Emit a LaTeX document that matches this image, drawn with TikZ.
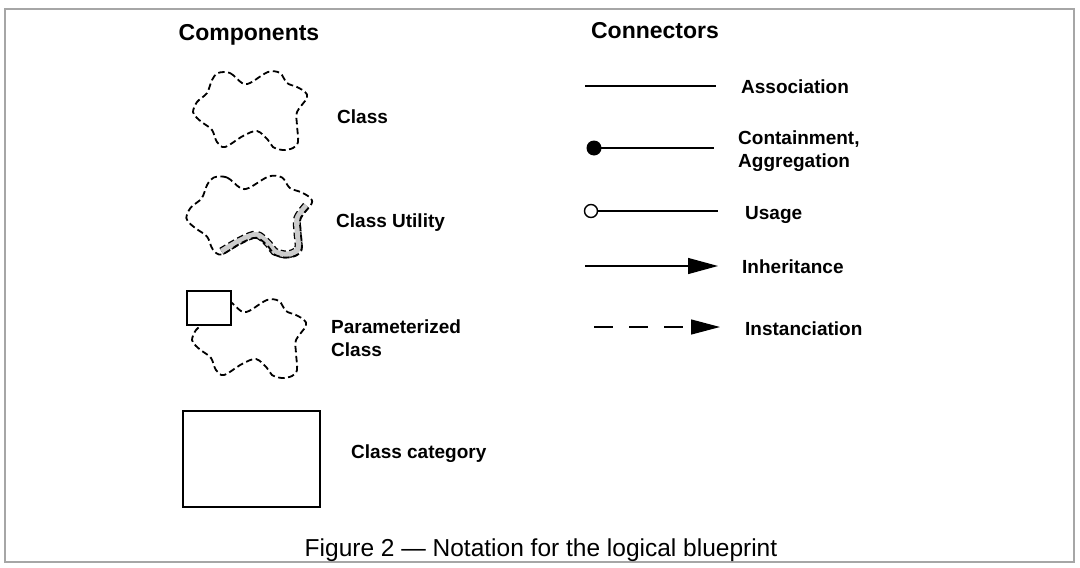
\documentclass[tikz,border=0pt]{standalone}
\usepackage{fontspec}
\setmainfont{Liberation Sans}
\usetikzlibrary{arrows.meta}
\tikzset{cloudline/.style={black, line width=1.8pt, dash pattern=on 6.5pt off 3.5pt},
  bandedge/.style={black, line width=8pt, dash pattern=on 6.5pt off 3.5pt},
  bandfill/.style={gray!40, line width=5.4pt},
  conn/.style={black, line width=1.3pt},
  lbl/.style={anchor=base west, inner sep=0pt, font=\fontsize{19}{22.5}\selectfont\bfseries},
  head/.style={anchor=base, inner sep=0pt, font=\fontsize{23}{27}\selectfont\bfseries},
  dotend/.style={circle, fill=black, inner sep=0pt, minimum size=15pt},
  ringend/.style={circle, draw=black, fill=white, line width=1.4pt, inner sep=0pt, minimum size=13pt}}
\newcommand{\cloudshape}{plot[smooth cycle, tension=0.55] coordinates {(-32,-38) (-20,-38) (-8,-28) (0,-28) (18,-39) (30,-38) (37,-28) (47,-24) (55,-19) (57,-13) (47,1) (47,14) (48,31) (43,37) (33,39) (23,36) (18,29) (7,20) (-7,25) (-25,36) (-33,31) (-38,19) (-47,12) (-53,7) (-57,1) (-53,-9) (-43,-18) (-38,-31)}}
\begin{document}
\begin{tikzpicture}[x=1pt, y=-1pt]
  \useasboundingbox (0,0) rectangle (1080,568);
  \draw [gray!70, line width=1.5pt] (5,9) rectangle (1074,562);

  % headings
  \node [head] (comphead) at (249,40) {Components};
  \node [head] (connhead) at (655,38) {Connectors};

  % components
  \begin{scope}[shift={(250,111)}]
    \draw [cloudline] \cloudshape;
  \end{scope}
  \node [lbl] (classlbl) at (337,123) {Class};

  \begin{scope}[shift={(249,217)}, xscale=1.1, yscale=1.04]
    \draw [bandedge] plot[smooth, tension=0.55] coordinates {(-25,33) (-7,22) (7,17) (18,26) (23,33) (33,36) (41,34) (45,29) (44,14) (44,1) (52,-11)};
    \draw [bandfill] plot[smooth, tension=0.55] coordinates {(-25,33) (-7,22) (7,17) (18,26) (23,33) (33,36) (41,34) (45,29) (44,14) (44,1) (52,-11)};
    \draw [cloudline] \cloudshape;
  \end{scope}
  \node [lbl] (utillbl) at (336,227) {Class Utility};

  \begin{scope}[shift={(249,339)}]
    \draw [cloudline] \cloudshape;
  \end{scope}
  \draw [black, line width=1.5pt, fill=white] (187,291) rectangle (231,325);
  \node [lbl, align=left] (paramlbl) at (331,356) {Parameterized\\Class};

  \draw [black, line width=2pt] (183,411) rectangle (320,507);
  \node [lbl] (catlbl) at (351,458) {Class category};

  % connectors
  \coordinate (assocA) at (585,86);
  \coordinate (assocB) at (716,86);
  \draw [conn] (assocA) -- (assocB);
  \node [lbl] (assoclbl) at (741,93) {Association};

  \coordinate (contend) at (714,148);
  \draw [conn] (594,148) -- (contend);
  \node [dotend] (contdot) at (594,148) {};
  \node [lbl, align=left] (contlbl) at (738,167) {Containment,\\Aggregation};

  \coordinate (useend) at (718,211);
  \draw [conn] (591,211) -- (useend);
  \node [ringend] (usering) at (591,211) {};
  \node [lbl] (uselbl) at (745,219) {Usage};

  \coordinate (inhA) at (585,266);
  \coordinate (inhB) at (718,266);
  \draw [conn, -{Triangle[length=30pt, width=16pt]}] (inhA) -- (inhB);
  \node [lbl] (inhlbl) at (742,273) {Inheritance};

  \coordinate (instA) at (594,327);
  \coordinate (instB) at (720,327);
  \draw [conn, dash pattern=on 19pt off 16pt, -{Triangle[length=29pt, width=15pt]}] (instA) -- (instB);
  \node [lbl] (instlbl) at (745,335) {Instanciation};

  % caption
  \node [anchor=base, inner sep=0pt, font=\fontsize{24.5}{29}\selectfont] (caption) at (541,556.5) {Figure 2 --- Notation for the logical blueprint};
\end{tikzpicture}
\end{document}
